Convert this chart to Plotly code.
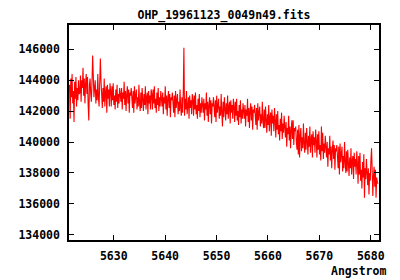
import plotly.graph_objects as go

title_text = "OHP_19961123_0049n49.fits"
x_label = "Angstrom"

# wavelength sampling of the spectrum (start, step in Angstrom)
wave_start = 5621.4
wave_step = 0.125

flux = [
    143700, 141500, 144100, 142900, 144400, 142500, 143300, 141300, 143900, 142800, 144200, 142300, 143500, 142700, 144000, 143100,
    143200, 144300, 142600, 144000, 143500, 144800, 143000, 144100, 142500, 143800, 144400, 143100, 144200, 142400, 141400, 143700,
    144100, 143100, 142600, 143900, 145600, 144300, 142900, 143500, 144000, 142500, 143400, 142700, 144400, 142900, 142300, 143800,
    145400, 144000, 142900, 142200, 143500, 142600, 144100, 142300, 143200, 143600, 141900, 143700, 142800, 143400, 142300, 143800,
    143300, 142300, 143600, 142700, 143800, 142400, 143000, 142100, 143400, 142600, 143700, 142200, 143100, 142500, 143500, 142800,
    142600, 143500, 142100, 143200, 142800, 143900, 142400, 143300, 142000, 143100, 143600, 142500, 143400, 141900, 143200, 143000,
    143500, 142600, 142200, 143300, 141900, 143600, 142500, 143000, 143400, 142100, 142900, 142300, 143700, 142500, 142000, 143200,
    142200, 143500, 142600, 142000, 143100, 142400, 143600, 142100, 142900, 143200, 141800, 143300, 142500, 143000, 142100, 143400,
    143100, 142100, 143400, 142500, 143600, 142200, 142800, 141900, 143200, 142400, 143500, 142000, 142900, 142300, 143300, 142600,
    142300, 143200, 141800, 142900, 142500, 143600, 142100, 143000, 141700, 142800, 143300, 142200, 143100, 141600, 142900, 142700,
    143200, 142300, 141900, 143000, 141600, 143300, 142200, 142700, 143100, 141800, 142600, 142000, 143400, 142200, 141700, 142900,
    141900, 143200, 146100, 141700, 142800, 142100, 143300, 141800, 142600, 142900, 141500, 143000, 142200, 142700, 141800, 143100,
    142700, 141700, 143000, 142100, 143200, 141800, 142400, 141500, 142800, 142000, 143100, 141600, 142500, 141900, 142900, 142200,
    141900, 142800, 141400, 142500, 142100, 143200, 141700, 142600, 141300, 142400, 142900, 141800, 142700, 141200, 142500, 142300,
    142900, 142000, 141600, 142700, 141300, 143000, 141900, 142400, 142800, 141500, 142300, 141700, 143100, 141900, 141000, 142600,
    141600, 142900, 142000, 141400, 142500, 141800, 143000, 141500, 142300, 142600, 141200, 142700, 141900, 142400, 141500, 142800,
    142300, 141300, 142600, 141700, 142800, 141400, 142000, 141100, 142400, 141600, 142700, 141200, 142100, 141500, 142500, 141800,
    141500, 142400, 141000, 142100, 141700, 142800, 141300, 142200, 140900, 142000, 142500, 141400, 142300, 140800, 142100, 141900,
    142400, 141500, 141100, 142200, 140800, 142500, 141400, 141900, 142300, 141000, 141800, 141200, 142600, 141400, 140900, 142100,
    140900, 142300, 141300, 140600, 141800, 141100, 142400, 140700, 141600, 141900, 140400, 142100, 141200, 141700, 140700, 142200,
    141400, 140300, 141800, 140800, 142000, 140500, 141100, 140100, 141500, 140700, 141900, 140200, 141200, 140600, 141700, 140900,
    140300, 141300, 139700, 140900, 140500, 141700, 140100, 141000, 139600, 140800, 141400, 140200, 141400, 139800, 140900, 140700,
    141000, 140000, 139500, 140800, 139200, 141100, 139000, 140400, 140900, 139400, 140300, 139600, 141200, 139900, 139300, 140600,
    139500, 140900, 139900, 139200, 140400, 139700, 141000, 139300, 140200, 140500, 139000, 140700, 139800, 140300, 139300, 140800,
    140100, 139000, 140500, 139500, 140700, 139200, 139800, 138800, 141000, 139400, 140600, 138900, 139900, 139300, 140400, 139600,
    139000, 140000, 138400, 139600, 139200, 140400, 138800, 139700, 138300, 139500, 140100, 138900, 139800, 138200, 139600, 139400,
    139800, 138800, 138300, 139700, 137900, 139900, 138700, 139200, 139700, 138100, 139100, 138300, 140000, 138700, 138000, 139400,
    138100, 139500, 138500, 137800, 139000, 138300, 139600, 137900, 138800, 139100, 137600, 139300, 138400, 138900, 137900, 139400,
    138600, 137300, 139100, 137900, 139300, 137500, 138200, 137000, 138700, 137700, 139200, 136400, 138300, 137600, 138900, 138000,
    137200, 138300, 136600, 138000, 137500, 138800, 139600, 138100, 136500, 137800, 138400, 137100, 138200, 136400, 137700, 137400,
    137300,
]

wave = [wave_start + i * wave_step for i in range(len(flux))]

x_ticks = [5630, 5640, 5650, 5660, 5670, 5680]
y_ticks = [134000, 136000, 138000, 140000, 142000, 144000, 146000]

font = dict(family="DejaVu Sans Mono", size=11.5, color="black", weight="bold")

fig = go.Figure()
fig.add_trace(go.Scatter(x=wave, y=flux, mode="lines",
                         line=dict(color="#ff0000", width=1.1), showlegend=False))

axis_common = dict(showline=True, linecolor="black", linewidth=1.5, mirror="ticks",
                   ticks="inside", ticklen=5, tickcolor="black", tickwidth=1,
                   showgrid=False, zeroline=False, tickfont=font)

fig.update_layout(
    width=400, height=280,
    margin=dict(l=69, r=21, t=25, b=40),
    paper_bgcolor="white", plot_bgcolor="white",
    title=dict(text=title_text, x=0.56, xref="container", y=0.946, yref="container",
               xanchor="center", yanchor="middle", font=font),
    xaxis=dict(range=[5621.3, 5681.6], tickvals=x_ticks,
               ticktext=[str(v) for v in x_ticks], ticklabelstandoff=4, **axis_common),
    yaxis=dict(range=[133660, 147570], tickvals=y_ticks,
               ticktext=[str(v) for v in y_ticks], ticklabelstandoff=5, **axis_common),
    annotations=[dict(text=x_label, x=1.029, y=-0.144, xref="paper", yref="paper",
                      xanchor="right", yanchor="middle", showarrow=False, font=font)],
)

fig.write_html("out.html")
